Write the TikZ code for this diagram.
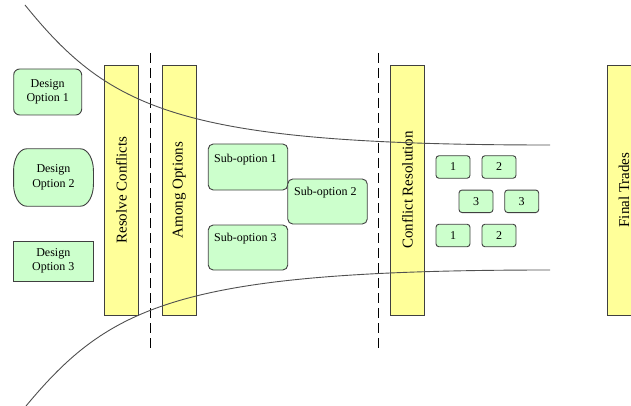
\documentclass[tikz,border=0pt]{standalone}
\usepackage{fontspec}
\setmainfont{Liberation Serif}
\definecolor{gfill}{HTML}{CCFFCC}
\definecolor{yfill}{HTML}{FFFF99}
\definecolor{bord}{HTML}{404040}
\definecolor{curvec}{HTML}{505050}
\begin{document}
\begin{tikzpicture}[x=1pt,y=-1pt,
  gbox/.style={draw=bord, fill=gfill, line width=0.9pt, inner sep=0pt, align=center,
    font=\fontsize{12}{14.5}\selectfont},
  ybar/.style={draw=bord, fill=yfill, line width=0.9pt, inner sep=0pt,
    minimum width=34pt, minimum height=250pt},
  bartext/.style={rotate=90, font=\fontsize{15}{17}\selectfont, inner sep=0pt},
  subtext/.style={anchor=north west, inner sep=0pt, font=\fontsize{12}{14}\selectfont},
  dline/.style={draw=black, line width=0.9pt, dash pattern=on 10pt off 5pt},
  fcurve/.style={draw=curvec, line width=0.9pt}]
\useasboundingbox (0,0) rectangle (631,406);
\clip (0,0) rectangle (631,406);

% design options
\node[gbox, rounded corners=6pt, minimum width=68pt, minimum height=46pt] (d1) at (47.7,92) {Design\\Option 1};
\node[inner sep=0pt, minimum width=79.5pt, minimum height=57pt] (d2) at (53.5,177.5) {};
\draw[draw=bord, fill=gfill, line width=0.9pt]
  ([xshift=13pt]d2.north west) -- ([xshift=-13pt]d2.north east)
  arc[start angle=90, end angle=0, x radius=13pt, y radius=22pt]
  -- ([yshift=22pt]d2.south east)
  arc[start angle=0, end angle=-90, x radius=13pt, y radius=22pt]
  -- ([xshift=13pt]d2.south west)
  arc[start angle=-90, end angle=-180, x radius=13pt, y radius=22pt]
  -- ([yshift=-22pt]d2.north west)
  arc[start angle=180, end angle=90, x radius=13pt, y radius=22pt] -- cycle;
\node[align=center, inner sep=0pt, font=\fontsize{12}{14.5}\selectfont] (d2t) at (d2.center) {Design\\Option 2};
\node[gbox, minimum width=80pt, minimum height=40pt] (d3) at (53.3,261) {Design\\Option 3};

% bars
\node[ybar] (b1) at (121.5,190) {};
\node[bartext] (b1t) at (b1.center) {Resolve Conflicts};
\node[ybar, minimum width=33.5pt] (b2) at (179.3,190) {};
\node[bartext] (b2t) at (b2.center) {Among Options};
\node[ybar, minimum width=33.5pt] (b3) at (407.3,190) {};
\node[bartext] (b3t) at (b3.center) {Conflict Resolution};
\node[ybar] (b4) at (624,190) {};
\node[bartext] (b4t) at (b4.center) {Final Trades};

% dashed lines
\coordinate (l1t) at (150,53);
\coordinate (l1b) at (150,350);
\coordinate (l2t) at (378,53);
\coordinate (l2b) at (378,350);
\draw[dline] (l1t) -- (l1b);
\draw[dline] (l2t) -- (l2b);

% sub-options
\node[gbox, rounded corners=5pt, minimum width=79.5pt, minimum height=46pt] (s1) at (248,167) {};
\node[subtext] (s1t) at (214,153.5) {Sub-option 1};
\node[gbox, rounded corners=5pt, minimum width=79.5pt, minimum height=45pt] (s2) at (327.5,201.5) {};
\node[subtext] (s2t) at (294,187) {Sub-option 2};
\node[gbox, rounded corners=5pt, minimum width=79.5pt, minimum height=45pt] (s3) at (248,247.5) {};
\node[subtext] (s3t) at (214,233) {Sub-option 3};

% small boxes
\tikzset{sbox/.style={gbox, rounded corners=3pt, minimum width=34pt, minimum height=22.5pt}}
\node[sbox] (n1a) at (453,167) {1};
\node[sbox] (n2a) at (499,167) {2};
\node[sbox] (n3a) at (476,201.3) {3};
\node[sbox] (n3b) at (521.7,201.3) {3};
\node[sbox] (n1b) at (453,235.5) {1};
\node[sbox] (n2b) at (499,235.5) {2};

% funnel curves
\coordinate (ua) at (25,5);
\coordinate (ub) at (550,145);
\coordinate (la) at (26,406);
\coordinate (lb) at (550,270);
\draw[fcurve] (ua) .. controls (110,110) and (180,145) .. (ub);
\draw[fcurve] (la) .. controls (110,305) and (180,270) .. (lb);
\end{tikzpicture}
\end{document}
